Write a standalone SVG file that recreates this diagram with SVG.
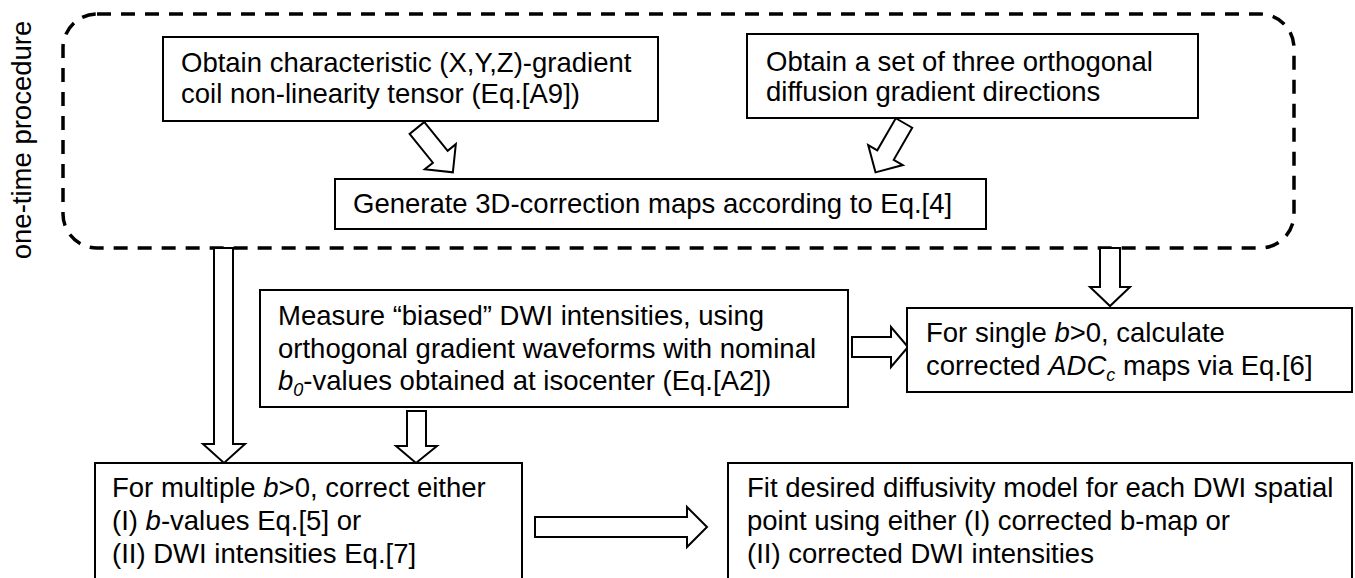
<svg xmlns="http://www.w3.org/2000/svg" width="1355" height="578" viewBox="0 0 1355 578">
<style>
  .box { fill: #ffffff; stroke: #000000; stroke-width: 2; }
  .t { font-family: "Liberation Sans", Arial, sans-serif; font-size: 27.5px; fill: #000000; }
  .arrow { fill: #ffffff; stroke: #000000; stroke-width: 2; stroke-linejoin: miter; }
  .dash { fill: none; stroke: #000000; stroke-width: 3.5; stroke-dasharray: 14 10; }
</style>
<rect width="1355" height="578" fill="#ffffff"/>
<g id="group-onetime">
  <rect class="dash" x="63" y="14" width="1231" height="234" rx="34" ry="34"/>
  <text class="t" transform="translate(31,140) rotate(-90)" text-anchor="middle" font-size="27">one-time procedure</text>
</g>
<g id="connectors">
  <polygon class="arrow" transform="translate(417,128) rotate(51)" points="0,-9.5 37,-9.5 37,-20 57,0 37,20 37,9.5 0,9.5"/>
  <polygon class="arrow" transform="translate(904,123) rotate(120)" points="0,-9.5 37,-9.5 37,-20 57,0 37,20 37,9.5 0,9.5"/>
  <polygon class="arrow" points="214,248 233,248 233,444 245,444 224,463 203,444 214,444"/>
  <polygon class="arrow" points="407,411 426,411 426,446 437,446 416,463 396,446 407,446"/>
  <polygon class="arrow" points="1100,248 1120,248 1120,287 1130,287 1110,306 1090,287 1100,287"/>
  <polygon class="arrow" points="852,337 891,337 891,327 908,347 891,367 891,357 852,357"/>
  <polygon class="arrow" points="535,517 687,517 687,507 707,527 687,547 687,537 535,537"/>
</g>
<g id="node-tensor">
  <rect class="box" x="163" y="37" width="495" height="84"/>
  <text class="t" x="181" y="72">Obtain characteristic (X,Y,Z)-gradient</text>
  <text class="t" x="181" y="103">coil non-linearity tensor (Eq.[A9])</text>
</g>
<g id="node-directions">
  <rect class="box" x="747" y="34" width="451" height="84"/>
  <text class="t" x="766" y="71">Obtain a set of three orthogonal</text>
  <text class="t" x="766" y="101">diffusion gradient directions</text>
</g>
<g id="node-maps">
  <rect class="box" x="335" y="179" width="651" height="50"/>
  <text class="t" x="353" y="213">Generate 3D-correction maps according to Eq.[4]</text>
</g>
<g id="node-measure">
  <rect class="box" x="260" y="290" width="588" height="117"/>
  <text class="t" x="278" y="325">Measure “biased” DWI intensities, using</text>
  <text class="t" x="278" y="358">orthogonal gradient waveforms with nominal</text>
  <text class="t" x="278" y="390"><tspan font-style="italic">b</tspan><tspan font-style="italic" font-size="18" dy="6">0</tspan><tspan dy="-6">-values obtained at isocenter (Eq.[A2])</tspan></text>
</g>
<g id="node-single">
  <rect class="box" x="907" y="308" width="445" height="84"/>
  <text class="t" x="926" y="342">For single <tspan font-style="italic">b</tspan>&gt;0, calculate</text>
  <text class="t" x="926" y="375">corrected <tspan font-style="italic">ADC</tspan><tspan font-style="italic" font-size="18" dy="6">c</tspan><tspan dy="-6"> maps via Eq.[6]</tspan></text>
</g>
<g id="node-multiple">
  <rect class="box" x="95" y="463" width="427" height="130"/>
  <text class="t" x="112" y="497">For multiple <tspan font-style="italic">b</tspan>&gt;0, correct either</text>
  <text class="t" x="112" y="530">(I) <tspan font-style="italic">b</tspan>-values Eq.[5] or</text>
  <text class="t" x="112" y="563">(II) DWI intensities Eq.[7]</text>
</g>
<g id="node-fit">
  <rect class="box" x="728" y="463" width="624" height="130"/>
  <text class="t" x="747" y="497">Fit desired diffusivity model for each DWI spatial</text>
  <text class="t" x="747" y="530">point using either (I) corrected b-map or</text>
  <text class="t" x="747" y="563">(II) corrected DWI intensities</text>
</g>
</svg>
